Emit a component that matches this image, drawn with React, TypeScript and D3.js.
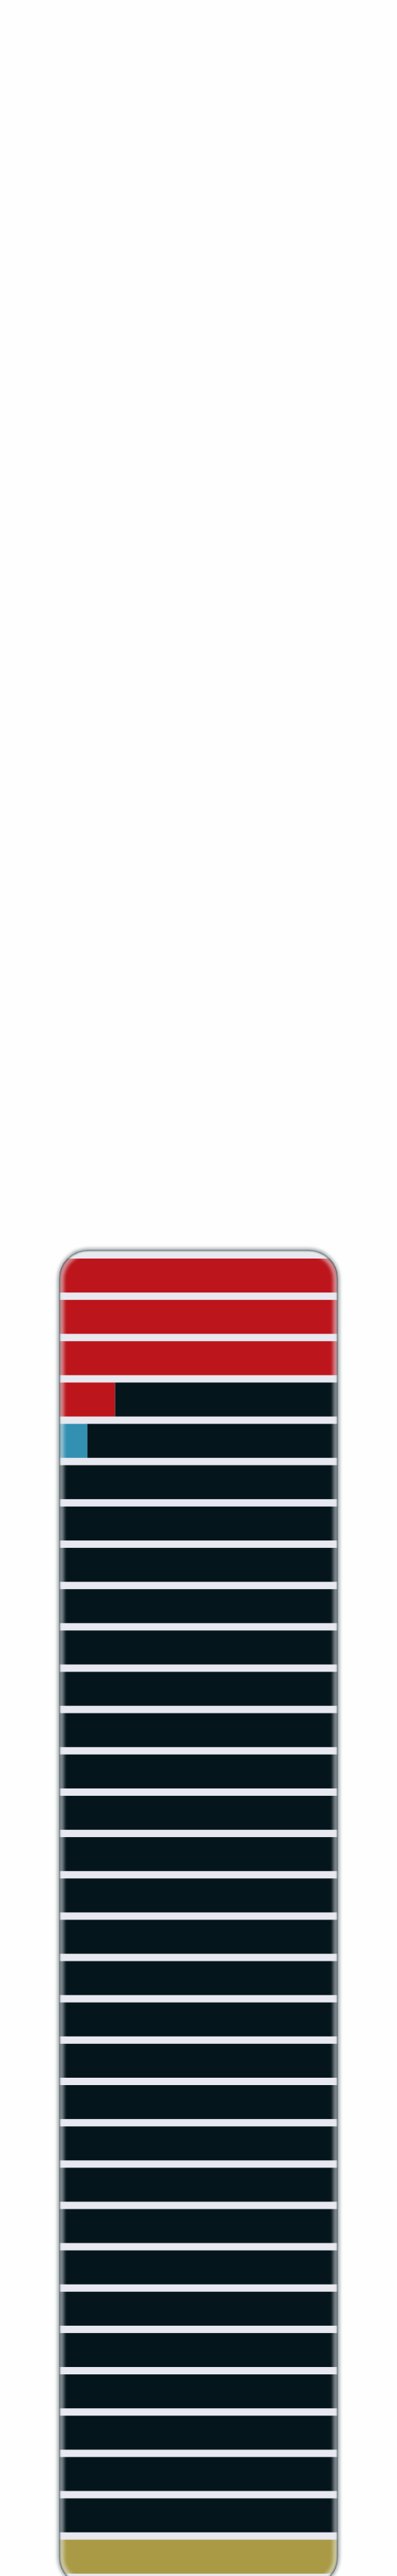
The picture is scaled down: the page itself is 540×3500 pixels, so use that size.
import * as d3 from "d3";

// Row shares (percent of each row), top to bottom
const rowIds = d3.range(32).map((i) => `r${i + 1}`);
const redValues = [100, 100, 100, 20, 0, 0, 0, 0, 0, 0, 0, 0, 0, 0, 0, 0, 0, 0, 0, 0, 0, 0, 0, 0, 0, 0, 0, 0, 0, 0, 0, 0];
const blueValues = [0, 0, 0, 0, 10, 0, 0, 0, 0, 0, 0, 0, 0, 0, 0, 0, 0, 0, 0, 0, 0, 0, 0, 0, 0, 0, 0, 0, 0, 0, 0, 0];
const darkValues = [0, 0, 0, 80, 90, 100, 100, 100, 100, 100, 100, 100, 100, 100, 100, 100, 100, 100, 100, 100, 100, 100, 100, 100, 100, 100, 100, 100, 100, 100, 100, 0];
const goldValues = [0, 0, 0, 0, 0, 0, 0, 0, 0, 0, 0, 0, 0, 0, 0, 0, 0, 0, 0, 0, 0, 0, 0, 0, 0, 0, 0, 0, 0, 0, 0, 100];
const seriesKeys = ["red", "blue", "dark", "gold"];

const colors: Record<string, string> = {
  red: "#bc151c",
  blue: "#3290b2",
  dark: "#05151c",
  gold: "#aa9a46",
};

const W = 540;
const H = 3500;
const frame = { left: 80, right: 460, top: 1698, bottom: 3514, r: 40 };

export default function App() {
  const rows = rowIds.map((id, i) => ({
    id,
    red: redValues[i],
    blue: blueValues[i],
    dark: darkValues[i],
    gold: goldValues[i],
  }));

  const stacked = d3.stack<any>().keys(seriesKeys)(rows);

  const x = d3.scaleLinear().domain([0, 100]).range([81, 459]);
  const y = d3
    .scaleBand()
    .domain(rowIds)
    .range([1700, 1700 + 56.15 * (rowIds.length + 0.178)])
    .paddingInner(0.178)
    .paddingOuter(0.178);

  const fw = frame.right - frame.left;
  const fh = frame.bottom - frame.top;

  return (
    <svg
      width={W}
      height={H}
      style={{ position: "absolute", left: 0, top: 0, display: "block", background: "#fefefe" }}
    >
      <defs>
        <clipPath id="frameClip">
          <rect x={frame.left} y={frame.top} width={fw} height={fh} rx={frame.r} ry={frame.r} />
        </clipPath>
        <filter id="soft" x="-10%" y="-10%" width="120%" height="120%">
          <feGaussianBlur stdDeviation="2.2" />
        </filter>
        <filter id="edge" x="-10%" y="-10%" width="120%" height="120%">
          <feGaussianBlur stdDeviation="1.2" />
        </filter>
      </defs>

      {/* outer shadow */}
      <rect
        x={frame.left}
        y={frame.top}
        width={fw}
        height={fh}
        rx={frame.r}
        fill="none"
        stroke="#4c5c60"
        strokeOpacity={0.7}
        strokeWidth={3}
        filter="url(#soft)"
      />

      <g clipPath="url(#frameClip)">
        <rect x={frame.left} y={frame.top} width={fw} height={fh} fill="#e8e8f0" />
        {stacked.map((s) => (
          <g key={s.key} fill={colors[s.key]}>
            {s.map((d, i) =>
              d[1] - d[0] > 0 ? (
                <rect
                  key={i}
                  x={x(d[0])}
                  y={y(rowIds[i])}
                  width={x(d[1]) - x(d[0])}
                  height={y.bandwidth()}
                />
              ) : null
            )}
          </g>
        ))}
        {/* soft inner edge */}
        <rect
          x={frame.left}
          y={frame.top}
          width={fw}
          height={fh}
          rx={frame.r}
          fill="none"
          stroke="#e8ecee"
          strokeOpacity={0.55}
          strokeWidth={14}
          filter="url(#soft)"
        />
        <rect
          x={frame.left}
          y={frame.top}
          width={fw}
          height={fh}
          rx={frame.r}
          fill="none"
          stroke="#56666a"
          strokeWidth={3}
          filter="url(#edge)"
        />
      </g>
    </svg>
  );
}
